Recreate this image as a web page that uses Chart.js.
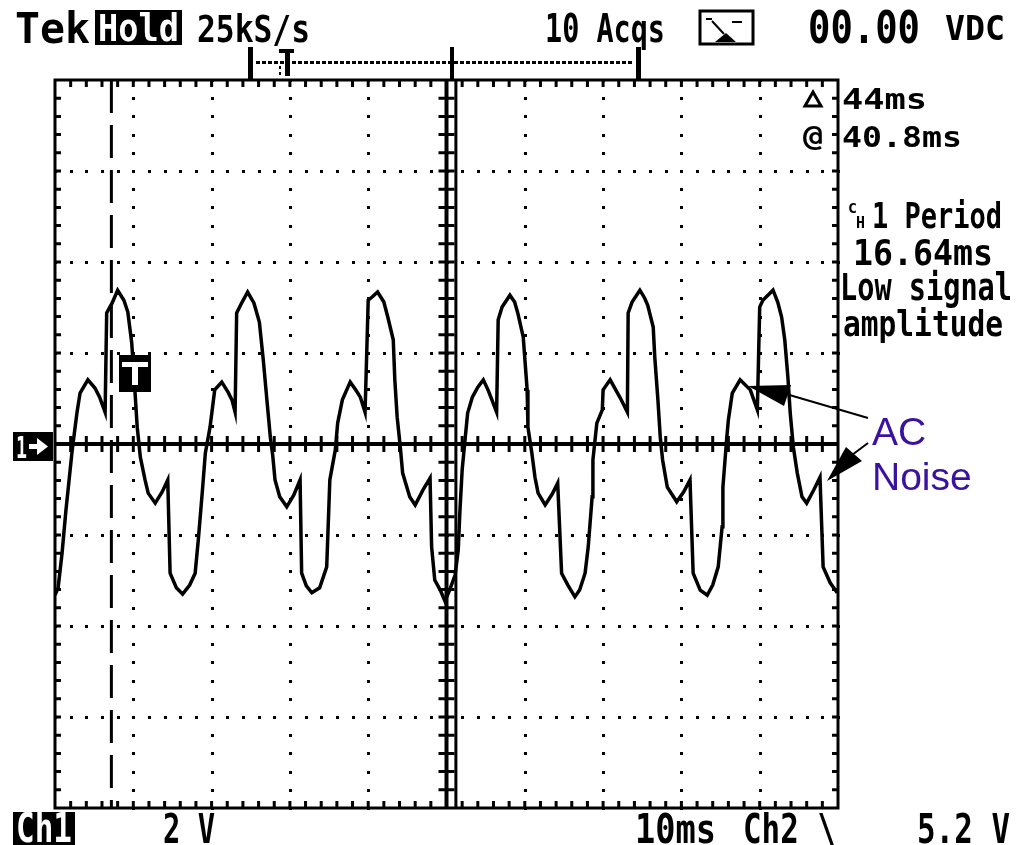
<!DOCTYPE html>
<html>
<head>
<meta charset="utf-8">
<title>Tek scope capture - AC noise on Ch1</title>
<script src="https://cdn.jsdelivr.net/npm/chart.js@4.4.1/dist/chart.umd.min.js"></script>
<style>
  html, body { margin: 0; padding: 0; background: #fff; }
  canvas { display: block; }
</style>
</head>
<body>
<canvas id="scope" width="1028" height="845"></canvas>
<script>
/* Ch1 trace: 10 ms/div, 2 V/div, ground at centre. */
const timeMs = [
  0, 0.4, 0.9, 1.4, 2.2, 2.8, 3.2, 4.2, 5.1, 5.7, 6.4, 6.6, 7.3, 8.0, 8.8, 9.3, 9.8, 10.2, 10.5, 10.9,
  11.5, 11.9, 12.8, 13.7, 14.4, 14.7, 15.5, 16.3, 17.2, 17.9, 18.3, 18.8, 19.2, 19.8, 20.4, 21.3, 22.1, 22.6, 23.0, 23.2,
  23.9, 24.6, 25.4, 26.1, 26.6, 27.1, 27.5, 27.8, 28.1, 28.7, 29.6, 30.5, 31.3, 31.5, 32.1, 32.8, 33.8, 34.7, 35.1, 35.8,
  36.1, 36.7, 37.7, 38.4, 39.0, 39.6, 40.0, 40.5, 41.2, 42.0, 42.5, 43.2, 43.4, 43.7, 44.1, 44.4, 45.3, 46.0, 47.0, 47.9,
  48.1, 48.5, 49.2, 49.8, 50.4, 51.1, 51.5, 51.7, 52.0, 52.4, 52.7, 53.3, 54.0, 54.7, 55.3, 55.8, 56.4, 56.6, 57.1, 58.1,
  58.7, 59.1, 59.8, 60.3, 60.4, 60.9, 61.3, 61.7, 62.6, 63.5, 64.2, 64.7, 65.5, 66.4, 67.0, 67.7, 68.1, 68.6, 68.7, 69.2,
  69.9, 70.0, 70.9, 72.2, 73.1, 73.2, 73.7, 74.7, 75.3, 75.7, 76.4, 76.6, 77.0, 77.3, 77.6, 78.2, 79.4, 80.3, 81.1, 81.5,
  82.4, 83.3, 84.0, 84.7, 85.2, 85.3, 85.8, 86.0, 86.5, 87.5, 88.8, 89.7, 90.0, 90.4, 91.7, 92.3, 92.8, 93.2, 93.6, 93.9,
  94.3, 94.8, 95.4, 96.0, 96.9, 97.7, 98.1, 99.0, 99.9
];
const ch1Volts = [
  -3.32, -3.16, -2.40, -1.45, -0.13, 0.68, 1.12, 1.41, 1.23, 1.03, 0.70, 2.88, 3.10, 3.38, 3.16, 2.90, 2.22, 1.19, 0.37, -0.29,
  -0.79, -1.08, -1.30, -1.05, -0.79, -2.84, -3.16, -3.30, -3.10, -2.84, -2.11, -1.08, -0.20, 0.37, 1.19, 1.36, 1.14, 0.97, 0.70, 2.88,
  3.12, 3.34, 3.10, 2.68, 1.85, 0.90, 0.15, -0.24, -0.79, -1.16, -1.38, -1.12, -0.79, -2.84, -3.12, -3.27, -3.16, -2.70, -0.79, -0.13,
  0.46, 0.97, 1.36, 1.19, 1.03, 0.70, 3.16, 3.23, 3.34, 3.12, 2.79, 2.29, 1.41, 0.59, -0.07, -0.64, -1.16, -1.34, -1.01, -0.75,
  -2.26, -2.99, -3.21, -3.45, -3.21, -2.88, -2.33, -1.52, -0.57, 0.15, 0.68, 1.03, 1.25, 1.41, 1.19, 0.97, 0.70, 2.73, 3.01, 3.27,
  3.12, 2.88, 2.35, 1.19, 0.37, -0.20, -0.73, -1.08, -1.34, -1.10, -0.86, -2.84, -3.10, -3.36, -3.21, -2.84, -2.26, -1.16, -0.35, 0.46,
  0.75, 1.19, 1.41, 1.01, 0.70, 2.88, 3.12, 3.38, 3.21, 3.05, 2.57, 1.91, 0.97, 0.15, -0.35, -0.95, -1.27, -1.05, -0.79, -2.84,
  -3.21, -3.32, -3.10, -2.70, -1.82, -0.95, 0.15, 0.53, 1.12, 1.41, 1.19, 0.75, 3.01, 3.16, 3.38, 3.12, 2.79, 2.29, 1.47, 0.68,
  -0.07, -0.64, -1.16, -1.30, -1.01, -0.73, -2.70, -3.05, -3.27
];

/* time cursors: dashed one is inactive, solid one is active (44 ms apart) */
const cursorMs = [7.2, 51.2];

const xDivs = 10, yDivs = 8, minorPerDiv = 5;
const msPerDiv = 10, voltsPerDiv = 2;

const FONT = '"DejaVu Sans Mono", monospace';
const INK = '#000';
const NOTE = '#3b119f';

/* draw text squeezed/stretched to a given width, like the scope's bitmap font */
function fitText(ctx, str, x, base, w, size, color) {
  ctx.save();
  ctx.font = 'bold ' + size + 'px ' + FONT;
  const m = ctx.measureText(str).width;
  ctx.translate(x, base);
  ctx.scale(w / m, 1);
  ctx.fillStyle = color || INK;
  ctx.fillText(str, 0, 0);
  ctx.restore();
}

function tri(ctx, pts) {
  ctx.beginPath();
  ctx.moveTo(pts[0], pts[1]);
  ctx.lineTo(pts[2], pts[3]);
  ctx.lineTo(pts[4], pts[5]);
  ctx.closePath();
  ctx.fill();
}

const graticule = {
  id: 'graticule',
  beforeDatasetsDraw(chart) {
    const { ctx, chartArea: a, scales: { x, y } } = chart;
    const xMinor = msPerDiv / minorPerDiv, yMinor = voltsPerDiv / minorPerDiv;
    const yMin = -yDivs / 2 * voltsPerDiv;
    ctx.save();
    ctx.fillStyle = INK;

    // dotted division lines (dots at every minor step)
    for (let d = 1; d < xDivs; d++) {
      if (d == xDivs / 2) continue;
      const px = Math.round(x.getPixelForValue(d * msPerDiv));
      for (let k = 0; k <= yDivs * minorPerDiv; k++) {
        const py = Math.round(y.getPixelForValue(yMin + k * yMinor));
        ctx.fillRect(px - 1, py - 1, 3, 3);
      }
    }
    for (let d = 1; d < yDivs; d++) {
      if (d == yDivs / 2) continue;
      const py = Math.round(y.getPixelForValue(yMin + d * voltsPerDiv));
      for (let k = 0; k <= xDivs * minorPerDiv; k++) {
        const px = Math.round(x.getPixelForValue(k * xMinor));
        ctx.fillRect(px - 1, py - 1, 3, 3);
      }
    }

    // frame
    ctx.strokeStyle = INK;
    ctx.lineWidth = 3;
    ctx.strokeRect(a.left, a.top, a.right - a.left, a.bottom - a.top);

    // centre cross
    const x0 = x.getPixelForValue(xDivs / 2 * msPerDiv);
    const y0 = y.getPixelForValue(0);
    ctx.lineWidth = 4;
    ctx.beginPath();
    ctx.moveTo(a.left, y0); ctx.lineTo(a.right, y0);
    ctx.moveTo(x0, a.top); ctx.lineTo(x0, a.bottom);
    ctx.stroke();

    // minor ticks on frame and centre cross
    ctx.lineWidth = 3;
    ctx.beginPath();
    for (let k = 1; k < xDivs * minorPerDiv; k++) {
      const px = x.getPixelForValue(k * xMinor);
      ctx.moveTo(px, a.top); ctx.lineTo(px, a.top + 7);
      ctx.moveTo(px, a.bottom - 7); ctx.lineTo(px, a.bottom);
      ctx.moveTo(px, y0 - 8); ctx.lineTo(px, y0 + 8);
    }
    for (let k = 1; k < yDivs * minorPerDiv; k++) {
      const py = y.getPixelForValue(yMin + k * yMinor);
      ctx.moveTo(a.left, py); ctx.lineTo(a.left + 6, py);
      ctx.moveTo(a.right - 6, py); ctx.lineTo(a.right, py);
      ctx.moveTo(x0 - 8, py); ctx.lineTo(x0 + 8, py);
    }
    ctx.stroke();
    ctx.restore();
  },

  afterDraw(chart) {
    const { ctx, scales: { x, y } } = chart;
    ctx.save();
    ctx.fillStyle = INK;
    ctx.strokeStyle = INK;

    // top readout row
    fitText(ctx, 'Tek', 15, 43, 75, 42);
    ctx.fillRect(95, 10, 87, 35);
    fitText(ctx, 'Hold', 98, 41, 81, 37, '#fff');
    fitText(ctx, '25kS/s', 197, 42, 113, 37);
    fitText(ctx, '10 Acqs', 545, 42, 120, 39);
    ctx.lineWidth = 3;
    ctx.strokeRect(700, 11, 53, 33);
    ctx.lineWidth = 2;
    ctx.beginPath();
    ctx.moveTo(706, 19); ctx.lineTo(712, 19);
    ctx.moveTo(712, 21); ctx.lineTo(724, 34);
    ctx.moveTo(732, 22); ctx.lineTo(742, 22);
    ctx.stroke();
    tri(ctx, [715, 42, 726, 33, 736, 42]);
    fitText(ctx, '00.00', 808, 43, 112, 45);
    fitText(ctx, 'VDC', 945, 40, 60, 34);

    // record view bar above the graticule
    ctx.fillRect(248, 47, 5, 33);
    ctx.fillRect(636, 47, 5, 33);
    ctx.fillRect(450, 47, 4, 33);
    for (let px = 256; px < 634; px += 6) ctx.fillRect(px, 61, 4, 3);
    ctx.fillRect(279, 49, 15, 4);
    ctx.fillRect(285, 49, 5, 27);
    ctx.fillRect(279, 66, 2, 3);
    ctx.fillRect(279, 72, 2, 3);

    // cursor readouts
    ctx.lineWidth = 3;
    ctx.beginPath();
    ctx.moveTo(805, 106); ctx.lineTo(813, 92); ctx.lineTo(821, 106); ctx.closePath();
    ctx.stroke();
    fitText(ctx, '44ms', 842, 109, 85, 28);
    fitText(ctx, '@', 803, 146, 20, 28);
    fitText(ctx, '40.8ms', 842, 147, 120, 29);

    // measurement readout
    fitText(ctx, 'C', 848, 213, 9, 14);
    fitText(ctx, 'H', 856, 228, 9, 16);
    fitText(ctx, '1 Period', 872, 228, 130, 36);
    fitText(ctx, '16.64ms', 853, 265, 140, 35);
    fitText(ctx, 'Low signal', 840, 300, 172, 37);
    fitText(ctx, 'amplitude', 843, 336, 160, 35);

    // bottom readout row
    ctx.fillRect(13, 812, 62, 33);
    fitText(ctx, 'Ch1', 16, 842, 56, 40, '#fff');
    fitText(ctx, '2 V', 163, 843, 52, 40);
    fitText(ctx, '10ms', 635, 843, 81, 40);
    fitText(ctx, 'Ch2 \\', 743, 843, 93, 40);
    fitText(ctx, '5.2 V', 917, 843, 93, 40);

    // ground marker for Ch1
    const g = Math.round(y.getPixelForValue(0));
    ctx.fillRect(13, g - 12, 40, 29);
    fitText(ctx, '1', 16, g + 14, 11, 30, '#fff');
    ctx.fillStyle = '#fff';
    ctx.fillRect(29, g, 10, 5);
    tri(ctx, [37, g - 6, 48, g + 2.5, 37, g + 11]);
    ctx.fillStyle = INK;

    // trigger point marker on the trace
    const tx = Math.round(x.getPixelForValue(cursorMs[0])) + 8;
    ctx.fillRect(tx, 355, 32, 37);
    ctx.fillStyle = '#fff';
    ctx.fillRect(tx + 3, 362, 26, 5);
    ctx.fillRect(tx + 13, 362, 6, 23);
    ctx.fillStyle = INK;

    // annotation
    ctx.lineWidth = 2;
    ctx.beginPath();
    ctx.moveTo(868, 418); ctx.lineTo(786, 394);
    ctx.moveTo(868, 443); ctx.lineTo(852, 455);
    ctx.stroke();
    tri(ctx, [748, 386, 791, 385, 784, 406]);
    tri(ctx, [827, 481, 846, 447, 862, 461]);
    ctx.font = '39px "Liberation Sans", Arial, sans-serif';
    ctx.fillStyle = NOTE;
    ctx.fillText('AC', 872, 445);
    ctx.fillText('Noise', 872, 490);
    ctx.restore();
  }
};

const vMax = yDivs / 2 * voltsPerDiv;

new Chart(document.getElementById('scope'), {
  type: 'line',
  data: {
    datasets: [
      {
        label: 'Ch1',
        data: timeMs.map((t, i) => ({ x: t, y: ch1Volts[i] })),
        borderColor: INK,
        borderWidth: 3.5,
        borderJoinStyle: 'miter',
        pointRadius: 0,
        tension: 0,
      },
      {
        label: 'cursor 1',
        data: [{ x: cursorMs[0], y: vMax }, { x: cursorMs[0], y: -vMax }],
        borderColor: INK,
        borderWidth: 3,
        borderDash: [33, 12],
        pointRadius: 0,
      },
      {
        label: 'cursor 2',
        data: [{ x: cursorMs[1], y: vMax }, { x: cursorMs[1], y: -vMax }],
        borderColor: INK,
        borderWidth: 3,
        pointRadius: 0,
      },
    ],
  },
  options: {
    responsive: false,
    animation: false,
    devicePixelRatio: 1,
    layout: { padding: { left: 55, right: 190, top: 80, bottom: 37 } },
    plugins: { legend: { display: false }, tooltip: { enabled: false } },
    scales: {
      x: { type: 'linear', min: 0, max: xDivs * msPerDiv, display: false },
      y: { type: 'linear', min: -vMax, max: vMax, display: false },
    },
  },
  plugins: [graticule],
});
</script>
</body>
</html>
